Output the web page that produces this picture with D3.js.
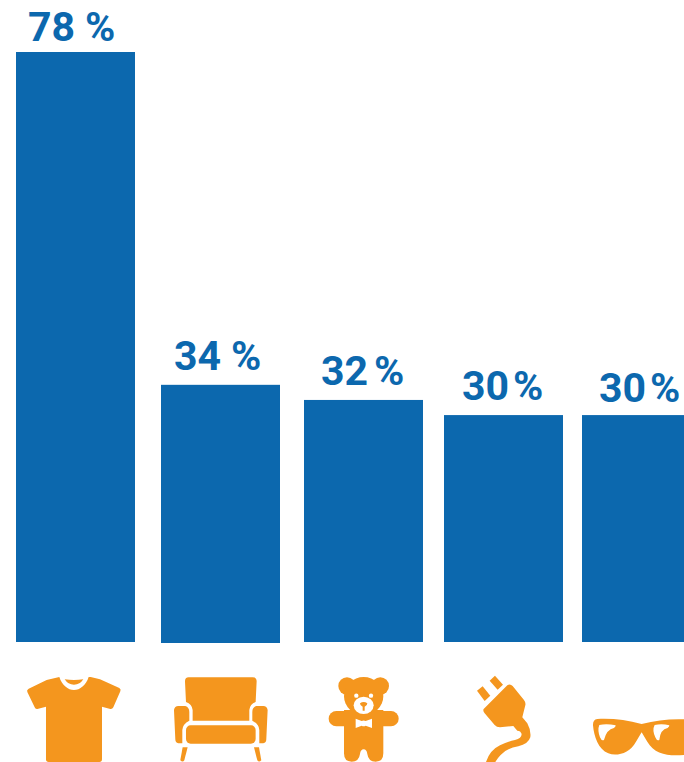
<!DOCTYPE html>
<html>
<head>
<meta charset="utf-8">
<script src="https://cdn.jsdelivr.net/npm/d3@7"></script>
<style>
  html, body { margin: 0; padding: 0; background: #fff; overflow: hidden; }
  svg { display: block; }
</style>
</head>
<body>
<svg id="chart"></svg>
<script>
// data
const categories = ["Clothes", "Furniture", "Toys", "Electronics", "Sunglasses"];
const shares = [78, 34, 32, 30, 30];
const units = ["%", "%", "%", "%", "%"];

const width = 684, height = 762;
const blue = "#0c68ae", orange = "#f4961e";

const svg = d3.select("#chart").attr("width", width).attr("height", height);

// the bars are not evenly spaced in the original, so x is an ordinal scale
const x = d3.scaleOrdinal().domain(categories).range([16, 161, 304, 444, 582]);
const y = d3.scaleLinear().domain([0, 78]).range([642, 52]);
const barWidth = 119;

const rows = categories.map((c, i) => ({ category: c, share: shares[i], unit: units[i], i: i }));

//bars
svg.selectAll("rect.bar")
    .data(rows)
    .join("rect")
    .attr("class", "bar")
    .attr("x", d => x(d.category))
    .attr("y", d => y(d.share))
    .attr("width", barWidth)
    .attr("height", d => y(0) - y(d.share) + (d.i === 1 ? 1 : 0)) // second bar sits 1px lower
    .attr("fill", blue);

//labels
const labelLeft = [28, 174, 321, 462, 599];
const labelGap = [10, 10, 6, 4, 4];
const labelRaise = [11, 15, 15, 15, 13];

const labels = svg.selectAll("text.label")
    .data(rows)
    .join("text")
    .attr("class", "label")
    .attr("x", d => labelLeft[d.i])
    .attr("y", d => y(d.share) - labelRaise[d.i])
    .attr("fill", blue)
    .attr("font-family", "Roboto")
    .attr("font-weight", 700)
    .attr("font-size", 41);

labels.append("tspan")
    .text(d => d.share);

labels.append("tspan")
    .attr("dx", d => labelGap[d.i])
    .text(d => d.unit);

//icons - paths traced in 3x pixels, so they get scaled down by a third
const icons = svg.append("g").attr("fill", orange);

const shirt = icons.append("g").attr("transform", "translate(0,650) scale(0.3333)");
shirt.append("path").attr("fill-rule", "evenodd").attr("d",
    "M178 81C186 106 204 120 222 120C240 120 258 106 266 81L272 81L300 88L358 114Q364 118 361 124L340 172Q337 178 331 177L306 170L306 328Q306 336 298 336L146 336Q138 336 138 328L138 170L112 177Q106 178 104 172L82 126Q79 120 86 116L140 90Z" +
    "M194 88Q222 92 250 88Q240 104 222 104Q204 104 194 88Z");

const chair = icons.append("g").attr("transform", "translate(0,650) scale(0.3333)");
chair.append("path").attr("d",
    "M566 82L758 82Q770 82 770 94L767 156Q750 162 748 180L748 212L578 212L578 180Q576 162 558 156L555 94Q555 82 566 82Z");
chair.append("path").attr("d",
    "M535 168L556 168Q568 172 568 186L568 212Q548 222 547 240L547 280L535 280Q526 278 526 268L522 180Q524 168 535 168Z");
chair.append("path").attr("d",
    "M790 168L769 168Q757 172 757 186L757 212Q777 222 778 240L778 280L790 280Q799 278 799 268L803 180Q801 168 790 168Z");
chair.append("rect").attr("x", 558).attr("y", 226).attr("width", 209).attr("height", 55).attr("rx", 14);
chair.append("path").attr("d", "M548 292L563 292L553 331Q548 338 541 331Z");
chair.append("path").attr("d", "M777 292L762 292L772 331Q777 338 784 331Z");

const teddy = icons.append("g").attr("transform", "translate(310,660) scale(0.3333)");
teddy.append("circle").attr("cx", 111).attr("cy", 78).attr("r", 26);
teddy.append("circle").attr("cx", 211).attr("cy", 78).attr("r", 26);
teddy.append("ellipse").attr("cx", 161).attr("cy", 108).attr("rx", 59).attr("ry", 57);
teddy.append("rect").attr("x", 56).attr("y", 153).attr("width", 210).attr("height", 46).attr("rx", 23);
teddy.append("path").attr("d",
    "M102 150L220 150L220 280Q220 305 197 305Q175 305 172 282Q170 268 161 268Q152 268 150 282Q147 305 125 305Q102 305 102 280Z");
teddy.append("ellipse").attr("cx", 161).attr("cy", 136).attr("rx", 30).attr("ry", 26).attr("fill", "#fff");
teddy.append("path").attr("d", "M150 130Q161 122 172 130Q172 138 164 140L164 152L158 152L158 140Q150 138 150 130Z");
teddy.append("circle").attr("cx", 139).attr("cy", 107).attr("r", 6.5).attr("fill", "#fff");
teddy.append("circle").attr("cx", 183).attr("cy", 107).attr("r", 6.5).attr("fill", "#fff");
teddy.append("path").attr("fill", "#fff").attr("d",
    "M137 176L155 183Q161 180 167 183L186 176L186 204L167 197Q161 200 155 197L137 204Z");

const plug = icons.append("g").attr("transform", "translate(310,660) scale(0.3333)");
plug.append("path").attr("d", "M501 92L518 79L541 107L524 123Z");
plug.append("path").attr("d", "M539 62L555 47L579 74L563 89Z");
plug.append("path").attr("d",
    "M521 147L592 76Q600 70 608 78L642 120Q648 128 646 136L637 172L652 190Q664 212 661 232Q655 252 625 259Q590 265 572 285Q562 295 556 306L528 306Q540 270 570 256Q595 244 615 240Q635 235 635 222Q632 212 622 212L610 198L570 202Q560 202 554 195L524 160Q518 152 521 147Z");

const glasses = icons.append("g").attr("transform", "translate(310,660) scale(0.3333)");
glasses.append("path").attr("d",
    "M862 177C910 175 950 180 995 192C1040 180 1080 176 1130 178L1130 284C1080 290 1035 285 1012 245L995 217L978 245C960 280 920 290 895 280C865 268 852 230 849 195Q849 178 862 177Z");
glasses.append("path").attr("fill", "#fff").attr("d",
    "M868 195Q890 190 917 196Q918 200 912 204Q890 208 882 240Q875 244 870 232Q862 210 868 195Z");
glasses.append("path").attr("fill", "#fff").attr("d",
    "M1034 195Q1056 190 1078 196Q1079 200 1073 204Q1051 208 1048 240Q1041 244 1036 232Q1026 210 1034 195Z");
</script>
</body>
</html>
